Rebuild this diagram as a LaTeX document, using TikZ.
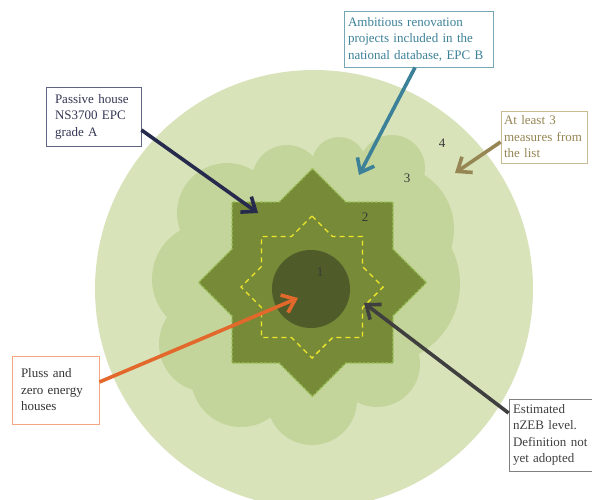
\documentclass[tikz,border=0pt]{standalone}
\usepackage{fontspec}
\setmainfont{Liberation Serif}
\usetikzlibrary{arrows.meta,calc}

\definecolor{ringfour}{HTML}{D8E3BA}
\definecolor{ringthree}{HTML}{C4D59B}
\definecolor{ringtwo}{HTML}{768A38}
\definecolor{ringone}{HTML}{4F5C2A}
\definecolor{starline}{HTML}{9BC25A}
\definecolor{dashyellow}{HTML}{F0E62C}
\definecolor{navyline}{HTML}{262A4C}
\definecolor{navybox}{HTML}{5E6482}
\definecolor{tealline}{HTML}{3C8198}
\definecolor{tanline}{HTML}{968654}
\definecolor{tanbox}{HTML}{C9BC92}
\definecolor{orangeline}{HTML}{E2692B}
\definecolor{orangebox}{HTML}{F4A47E}
\definecolor{greyline}{HTML}{3F3F3F}

% eight pointed star: tip radius #1, half side of the square #2, inner offset #3 = #1-#2
\newcommand{\eightstar}[3]{(0,-#1) -- (#3,-#2) -- (#2,-#2) -- (#2,-#3) -- (#1,0)
    -- (#2,#3) -- (#2,#2) -- (#3,#2) -- (0,#1) -- (-#3,#2) -- (-#2,#2) -- (-#2,#3)
    -- (-#1,0) -- (-#2,-#3) -- (-#2,-#2) -- (-#3,-#2) -- cycle}

\begin{document}
\begin{tikzpicture}[
    x=1pt, y=-1pt,
    font=\fontsize{13}{16.5}\selectfont,
    callout/.style={draw, rectangle, fill=white, align=left, inner ysep=0pt, line width=0.9pt},
    pointer/.style={line width=3.6pt, -{Straight Barb[length=12pt, width=19pt]}},
    ringno/.style={text=black!78, inner sep=0pt},
]
    \useasboundingbox[fill=white] (0,0) rectangle (592,499);

    % outer ring 4
    \fill[ringfour] (314,289) circle[radius=219];

    % cloud 3
    \fill[ringthree]
        (253,170) -- (313,157) -- (363,153) -- (425,175) -- (452,247) -- (420,352)
        -- (357,402) -- (270,418) -- (193,390) -- (167,317) -- (180,230) -- cycle
        (287,180) circle[radius=35]
        (339,164) circle[radius=27]
        (392,168) circle[radius=33]
        (390,229) circle[radius=64]
        (380,284) circle[radius=80]
        (377,364) circle[radius=43]
        (312,400) circle[radius=45]
        (241,377) circle[radius=50]
        (207,344) circle[radius=48]
        (208,279) circle[radius=56]
        (227,213) circle[radius=50];

    % star 2
    \filldraw[shift={(312.5,282.5)}, fill=ringtwo, draw=starline, line width=1.3pt,
        dash pattern=on 3pt off 1.5pt] \eightstar{114}{80.5}{33.5};
    \draw[shift={(312,287)}, draw=dashyellow, line width=1.4pt,
        dash pattern=on 5pt off 4pt] \eightstar{71}{50.5}{20.5};

    % core 1
    \fill[ringone] (311,289) circle[radius=39];

    \node[ringno] (n1) at (320,272) {1};
    \node[ringno] (n2) at (365,217) {2};
    \node[ringno] (n3) at (407,178) {3};
    \node[ringno] (n4) at (442,143) {4};

    % text boxes
    \node[callout, draw=navybox, text=navyline!85!gray, inner xsep=9pt,
        text width=77pt, minimum width=95pt, minimum height=59pt] (passive) at (93.5,116.5)
        {Passive house\\NS3700 EPC\\grade A};
    \node[callout, draw=tealline!70!white, text=tealline, inner xsep=4pt,
        text width=141pt, minimum width=149pt, minimum height=56pt] (renov) at (418.5,39)
        {Ambitious renovation\\projects included in the\\national database, EPC B};
    \node[callout, draw=tanbox, text=tanline, inner xsep=3pt,
        text width=80pt, minimum width=86pt, minimum height=52pt] (measures) at (544,137)
        {At least 3\\measures from\\the list};
    \node[callout, draw=orangebox, text=black!80, inner xsep=9pt,
        text width=69pt, minimum width=87pt, minimum height=68pt] (pluss) at (55.5,390)
        {Pluss and\\zero energy\\houses};
    \node[callout, draw=black!50, text=black!75, inner xsep=4pt,
        text width=75pt, minimum width=83pt, minimum height=72pt] (nzeb) at (550.5,435)
        {Estimated\\nZEB level.\\Definition not\\yet adopted};

    % arrow ends
    \coordinate (tipA) at (258,213);
    \coordinate (tipB) at (359,175);
    \coordinate (tipC) at (455,173);
    \coordinate (tipD) at (298,298);
    \coordinate (tipE) at (364,303);

    % arrows
    \draw[pointer, navyline] ([yshift=-13.5pt]passive.east) -- (tipA);
    \draw[pointer, tealline] ([xshift=-3.5pt]renov.south) -- (tipB);
    \draw[pointer, tanline] ([yshift=-5pt]measures.west) -- (tipC);
    \draw[pointer, orangeline] ([yshift=8pt]pluss.east) -- (tipD);
    \draw[pointer, greyline] ([yshift=22pt]nzeb.west) -- (tipE);

\end{tikzpicture}
\end{document}
